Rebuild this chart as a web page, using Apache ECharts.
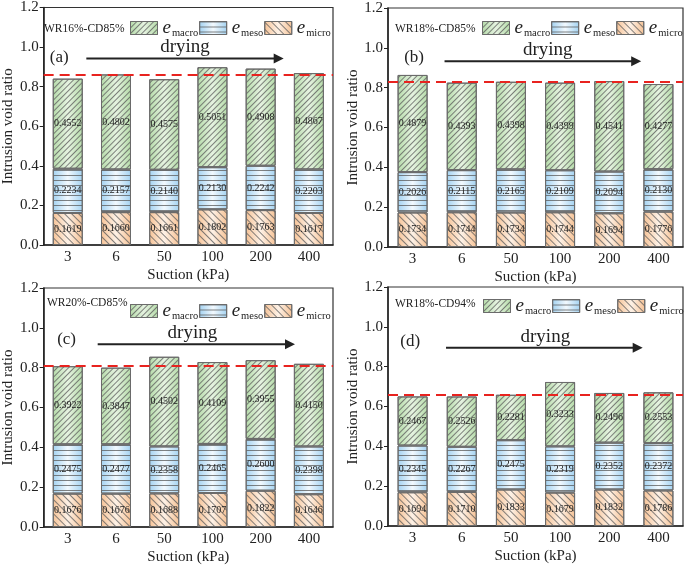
<!DOCTYPE html>
<html><head><meta charset="utf-8">
<script src="https://cdn.jsdelivr.net/npm/echarts@6/dist/echarts.min.js"></script>
<style>html,body{margin:0;padding:0;background:#fff}#c{width:685px;height:566px}</style>
</head><body><div id="c"></div>
<script>
const categories = ['3', '6', '50', '100', '200', '400'];
const yTicks = [0, 0.2, 0.4, 0.6, 0.8, 1.0, 1.2];
const panelNames = ['WR16%-CD85%', 'WR18%-CD85%', 'WR20%-CD85%', 'WR18%-CD94%'];
const panelLetters = ['(a)', '(b)', '(c)', '(d)'];
const microA = [0.1619, 0.1660, 0.1661, 0.1802, 0.1763, 0.1617];
const mesoA  = [0.2234, 0.2157, 0.2140, 0.2130, 0.2242, 0.2203];
const macroA = [0.4552, 0.4802, 0.4575, 0.5051, 0.4908, 0.4867];
const microB = [0.1734, 0.1744, 0.1734, 0.1744, 0.1694, 0.1776];
const mesoB  = [0.2026, 0.2115, 0.2165, 0.2109, 0.2094, 0.2130];
const macroB = [0.4879, 0.4393, 0.4398, 0.4399, 0.4541, 0.4277];
const microC = [0.1676, 0.1676, 0.1688, 0.1707, 0.1822, 0.1646];
const mesoC  = [0.2475, 0.2477, 0.2358, 0.2465, 0.2600, 0.2398];
const macroC = [0.3922, 0.3847, 0.4502, 0.4109, 0.3955, 0.4150];
const microD = [0.1694, 0.1710, 0.1833, 0.1679, 0.1832, 0.1786];
const mesoD  = [0.2345, 0.2267, 0.2475, 0.2319, 0.2352, 0.2372];
const macroD = [0.2467, 0.2526, 0.2281, 0.3233, 0.2496, 0.2553];
const refLines = [0.858, 0.83, 0.81, 0.663];

const panels = [
  {micro: microA, meso: mesoA, macro: macroA},
  {micro: microB, meso: mesoB, macro: macroB},
  {micro: microC, meso: mesoC, macro: macroC},
  {micro: microD, meso: mesoD, macro: macroD}
];

// layout
const grids = [
  {left: 37, top: 7, width: 296, height: 238},
  {left: 388, top: 8, width: 295, height: 239},
  {left: 37, top: 288, width: 296, height: 239},
  {left: 388, top: 287, width: 295, height: 239}
];
// annotation placement in data units (category index, value)
const arrows = [
  {x0: 0.5, x1: 4.5, y: 0.94, tx: 2.5, ty: 1.0, lx: -0.05, ly: 0.945},
  {x0: 0.65, x1: 4.65, y: 0.933, tx: 2.75, ty: 0.99, lx: 0.03, ly: 0.95},
  {x0: 0.73, x1: 4.73, y: 0.918, tx: 2.65, ty: 0.975, lx: 0.1, ly: 0.94},
  {x0: 0.68, x1: 4.68, y: 0.895, tx: 2.7, ty: 0.95, lx: -0.05, ly: 0.925}
];
const legendPos = [
  {title: [44, 29], left: 130, top: 18},
  {title: [395, 29], left: 482, top: 18},
  {title: [47, 303], left: 130, top: 301},
  {title: [395, 304], left: 483, top: 296}
];

const SERIF = '"Liberation Serif", "Times New Roman", serif';

function grad(edge, mid) {
  return new echarts.graphic.LinearGradient(0, 0, 1, 0, [
    {offset: 0, color: edge}, {offset: 0.5, color: mid}, {offset: 1, color: edge}
  ]);
}
const styles = {
  macro: {color: grad('#b5dba9', '#e6f3e1'), decal: {symbol: 'rect', dashArrayX: [1, 0], dashArrayY: [1, 3], rotation: -Math.PI / 4, color: 'rgba(90,90,90,0.75)'}},
  meso:  {color: grad('#a3d2f1', '#f2f9fe'), decal: {symbol: 'rect', dashArrayX: [1, 0], dashArrayY: [1, 3.4], rotation: 0, color: 'rgba(90,90,90,0.75)'}},
  micro: {color: grad('#f6c295', '#fdf1e6'), decal: {symbol: 'rect', dashArrayX: [1, 0], dashArrayY: [1, 4], rotation: Math.PI / 4, color: 'rgba(90,90,90,0.75)'}}
};

const chart = echarts.init(document.getElementById('c'), null, {renderer: 'canvas'});

const option = {
  animation: false,
  backgroundColor: '#fff',
  grid: grids.map(g => Object.assign({show: true, borderColor: '#333', borderWidth: 1.2, backgroundColor: 'transparent', containLabel: false}, g)),
  xAxis: grids.map((g, i) => ({
    type: 'category', gridIndex: i, data: categories,
    axisLine: {lineStyle: {color: '#222', width: 1.5}},
    axisTick: {show: false},
    axisLabel: {color: '#222', fontFamily: SERIF, fontSize: 15, margin: 5},
    name: 'Suction (kPa)', nameLocation: 'middle', nameGap: 23,
    nameTextStyle: {color: '#222', fontFamily: SERIF, fontSize: 15}
  })),
  yAxis: grids.map((g, i) => ({
    type: 'value', gridIndex: i, min: 0, max: 1.2, interval: 0.2,
    splitLine: {show: false},
    axisLine: {show: true, lineStyle: {color: '#222', width: 1.5}},
    axisTick: {show: true, length: 4, lineStyle: {color: '#222'}},
    axisLabel: {color: '#222', fontFamily: SERIF, fontSize: 15, margin: 5,
      formatter: v => yTicks.some(t => Math.abs(t - v) < 1e-9) ? v.toFixed(1) : ''},
    name: 'Intrusion void ratio', nameLocation: 'middle', nameGap: 21, nameRotate: 90,
    nameTextStyle: {color: '#222', fontFamily: SERIF, fontSize: 15}
  })),
  legend: legendPos.map((lp, i) => ({
    left: lp.left, top: lp.top, width: 230, orient: 'horizontal', padding: 0,
    data: ['macro', 'meso', 'micro'],
    icon: 'rect',
    itemWidth: 27, itemHeight: 13, itemGap: 1,
    itemStyle: {borderColor: '#6b6b6b', borderWidth: 1},
    selectedMode: false,
    formatter: name => '{e|e}{s|' + name + '}',
    textStyle: {
      color: '#222', fontFamily: SERIF,
      rich: {
        e: {fontFamily: SERIF, fontStyle: 'italic', fontSize: 19, color: '#222', lineHeight: 18, verticalAlign: 'bottom'},
        s: {fontFamily: SERIF, fontSize: 10.5, color: '#222', lineHeight: 11, verticalAlign: 'bottom', padding: [0, 0, -2, 1]}
      }
    }
  })),
  series: []
};

panels.forEach((p, i) => {
  ['micro', 'meso', 'macro'].forEach(k => {
    const s = {
      name: k, type: 'bar', stack: 'p' + i, xAxisIndex: i, yAxisIndex: i,
      data: p[k], barWidth: 30,
      itemStyle: {color: styles[k].color, decal: styles[k].decal, borderColor: '#6b6b6b', borderWidth: 1},
      label: {show: true, position: 'inside', color: '#222', fontFamily: SERIF, fontSize: 10,
        textBorderWidth: 0, formatter: q => q.value.toFixed(4)}
    };
    if (k === 'macro') {
      s.markLine = {
        silent: true, symbol: 'none', label: {show: false},
        lineStyle: {color: '#e8231f', type: [10, 6], width: 2},
        data: [{yAxis: refLines[i]}]
      };
    }
    option.series.push(s);
  });
});

// annotations
function px(i, idx, v) {
  const g = grids[i];
  return [g.left + (idx + 0.5) * g.width / categories.length, g.top + g.height * (1 - v / 1.2)];
}
const graphics = [];
arrows.forEach((a, i) => {
  const p0 = px(i, a.x0, a.y), p1 = px(i, a.x1, a.y);
  graphics.push({type: 'line', shape: {x1: p0[0], y1: p0[1], x2: p1[0] - 6, y2: p1[1]}, style: {stroke: '#222', lineWidth: 2}, z: 100});
  graphics.push({type: 'polygon', shape: {points: [[p1[0], p1[1]], [p1[0] - 10, p1[1] - 5], [p1[0] - 10, p1[1] + 5]]}, style: {fill: '#222'}, z: 100});
  const t = px(i, a.tx, a.ty);
  graphics.push({type: 'text', x: t[0], y: t[1], style: {text: 'drying', fill: '#222', font: '19px ' + SERIF, align: 'center', verticalAlign: 'middle'}, z: 100});
  const l = px(i, a.lx, a.ly);
  graphics.push({type: 'text', x: l[0], y: l[1], style: {text: panelLetters[i], fill: '#222', font: '17px ' + SERIF, align: 'center', verticalAlign: 'middle'}, z: 100});
  const lp = legendPos[i];
  graphics.push({type: 'text', x: lp.title[0], y: lp.title[1], style: {text: panelNames[i], fill: '#222', font: '11.5px ' + SERIF, align: 'left', verticalAlign: 'middle'}, z: 100});
});
option.graphic = graphics;

chart.setOption(option);
</script></body></html>
